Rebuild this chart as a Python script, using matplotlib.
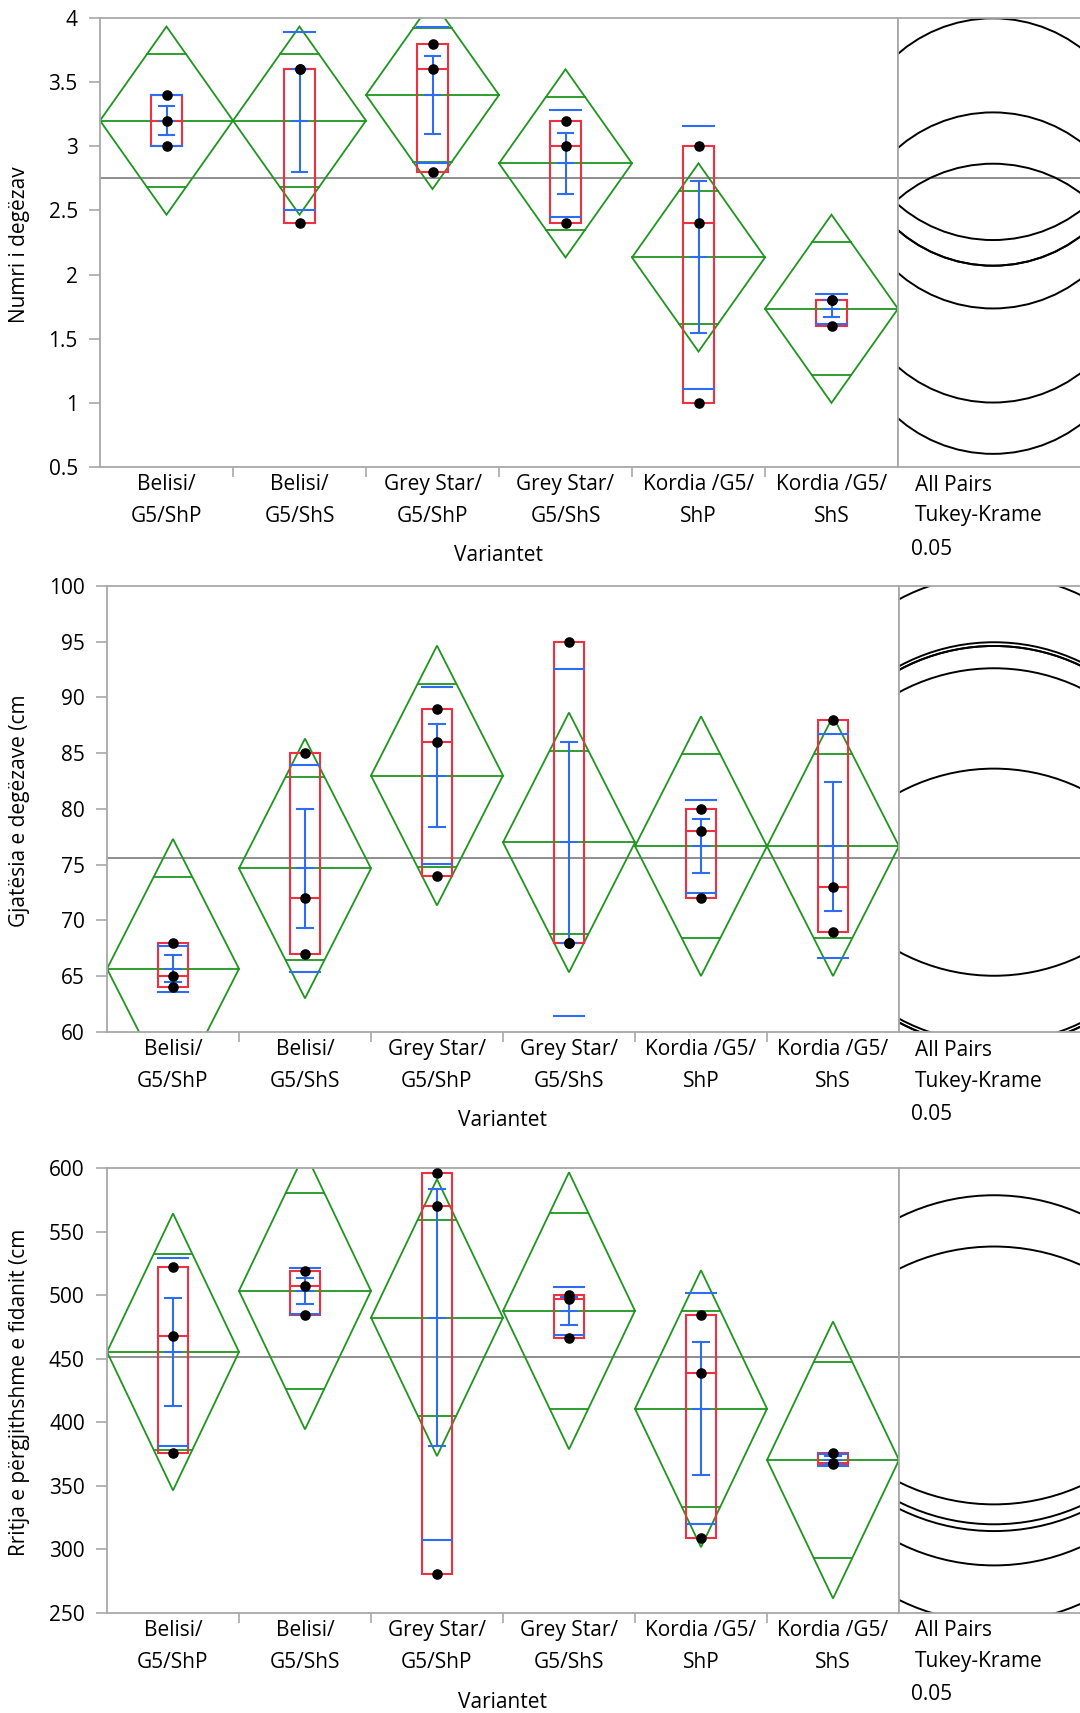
import numpy as np
import matplotlib.pyplot as plt
from matplotlib.patches import Polygon, Rectangle, Ellipse

plt.rcParams['font.family'] = ['Open Sans', 'DejaVu Sans']

W, H = 1080, 1713
DPI = 100

groups = ['Belisi/\nG5/ShP', 'Belisi/\nG5/ShS', 'Grey Star/\nG5/ShP',
          'Grey Star/\nG5/ShS', 'Kordia /G5/\nShP', 'Kordia /G5/\nShS']

branches = [[3.4, 3.2, 3.0], [3.6, 3.6, 2.4], [3.8, 3.6, 2.8],
            [3.2, 3.0, 2.4], [3.0, 2.4, 1.0], [1.8, 1.8, 1.6]]
lengths = [[68, 65, 64], [85, 72, 67], [89, 86, 74],
           [95, 68, 68], [80, 78, 72], [88, 73, 69]]
growth = [[522, 468, 376], [519, 507, 484], [596, 570, 281],
          [500, 497, 466], [484, 439, 309], [376, 368, 367]]

ylabels = ['Numri i degëzav', 'Gjatësia e degëzave (cm',
           'Rritja e përgjithshme e fidanit (cm']
ylims = [(0.5, 4), (60, 100), (250, 600)]
ysteps = [0.5, 5, 50]

T_CRIT = 2.179   # t(0.975, df=12)
Q_STAR = 3.359   # Tukey-Kramer q*/sqrt(2), k=6, df=12

GREEN = '#1f951f'
RED = '#ee3040'
BLUE = '#2e6df2'
FRAME = '#a8a8a8'
FS = 15

# pixel boxes (left, top, right, bottom) of the panels
boxes = [(100, 18, 898, 467), (107, 586, 899, 1032), (107, 1168, 899, 1613)]
CIRCLE_X = 95  # circle centre, px right of the panel divider

fig = plt.figure(figsize=(W / DPI, H / DPI), dpi=DPI)


def frac(l, t, r, b):
    return [l / W, 1 - b / H, (r - l) / W, (b - t) / H]


def draw_panel(data, ylabel, ylim, ystep, box):
    l, t, r, b = box
    ax = fig.add_axes(frac(l, t, r, b))
    cax = fig.add_axes(frac(r, t, W + 2, b))
    for a in (ax, cax):
        a.set_ylim(ylim)
        for s in a.spines.values():
            s.set_color(FRAME)
            s.set_linewidth(1.3)
    cax.spines['right'].set_visible(False)
    cax.set_xticks([])
    cax.set_yticks([])
    cax.set_xlim(0, W + 2 - r)

    ax.set_xlim(0, len(groups))
    ax.set_xticks(np.arange(1, len(groups)))
    ax.set_xticklabels([])
    ax.set_xticks(np.arange(len(groups)) + 0.5, minor=True)
    ax.set_xticklabels(groups, minor=True, fontsize=FS, linespacing=1.7)
    ax.tick_params(axis='x', which='major', length=7, color=FRAME, width=1.2)
    ax.tick_params(axis='x', which='minor', length=0, pad=5)
    yt = np.arange(ylim[0], ylim[1] + ystep / 2, ystep)
    ax.set_yticks(yt)
    ax.set_yticklabels(['%g' % v for v in yt], fontsize=FS)
    ax.tick_params(axis='y', length=8, color=FRAME, width=1.2, pad=8)

    arr = [np.array(v, dtype=float) for v in data]
    n = len(arr[0])
    means = [v.mean() for v in arr]
    rmse = np.sqrt(np.mean([v.var(ddof=1) for v in arr]))
    ci = T_CRIT * rmse / np.sqrt(n)
    grand = np.mean(np.concatenate(arr))

    ax.axhline(grand, color='#7a7a7a', lw=1.2, zorder=1)
    cax.axhline(grand, color='#7a7a7a', lw=1.2, zorder=1)

    bw = 0.23
    cap = 0.115
    ov = ci / np.sqrt(2)
    hw = 0.5 * (1 - 1 / np.sqrt(2))
    for i, v in enumerate(arr):
        c = i + 0.5
        m = means[i]
        sd = v.std(ddof=1)
        se = sd / np.sqrt(n)
        ax.add_patch(Polygon([(c - 0.5, m), (c, m + ci), (c + 0.5, m), (c, m - ci)],
                             closed=True, fill=False, ec=GREEN, lw=1.3, zorder=2))
        ax.plot([c - 0.5, c + 0.5], [m, m], color=GREEN, lw=1.3, zorder=2)
        ax.plot([c - hw, c + hw], [m + ov, m + ov], color=GREEN, lw=1.3, zorder=2)
        ax.plot([c - hw, c + hw], [m - ov, m - ov], color=GREEN, lw=1.3, zorder=2)

        q1, med, q3 = np.percentile(v, [25, 50, 75], method='weibull')
        ax.add_patch(Rectangle((c - bw / 2, q1), bw, q3 - q1, fill=False,
                               ec=RED, lw=1.5, zorder=3))
        ax.plot([c - bw / 2, c + bw / 2], [med, med], color=RED, lw=1.5, zorder=3)

        for y in (m - sd, m + sd):
            ax.plot([c - bw / 2, c + bw / 2], [y, y], color=BLUE, lw=1.5, zorder=4)
        ax.plot([c, c], [m - se, m + se], color=BLUE, lw=1.5, zorder=4)
        for y in (m - se, m, m + se):
            ax.plot([c - cap / 2, c + cap / 2], [y, y], color=BLUE, lw=1.5, zorder=4)

        ax.scatter(np.full(n, c), v, s=58, color='black', zorder=5, linewidths=0)

    # comparison circles (Tukey-Kramer), round in pixel space
    radius = Q_STAR * rmse / np.sqrt(n)
    ppu = (b - t) / (ylim[1] - ylim[0])
    for m in means:
        cax.add_patch(Ellipse((CIRCLE_X, m), 2 * radius * ppu, 2 * radius,
                              fill=False, ec='black', lw=1.4))

    fig.text(20 / W, 1 - ((t + b) / 2 + 2) / H, ylabel, rotation=90,
             ha='center', va='center', fontsize=FS)
    fig.text((l + r) / 2 / W, 1 - (b + 89) / H, 'Variantet',
             ha='center', va='center', fontsize=FS)
    for k, s in enumerate(['All Pairs', 'Tukey-Krame']):
        fig.text(915 / W, 1 - (b + 18 + 31 * k) / H, s,
                 ha='left', va='center', fontsize=FS)
    fig.text(911 / W, 1 - (b + 82) / H, '0.05', ha='left', va='center', fontsize=FS)


for d, lab, yl, st, bx in zip([branches, lengths, growth], ylabels, ylims, ysteps, boxes):
    draw_panel(d, lab, yl, st, bx)

fig.savefig('out.png', dpi=DPI, facecolor='white')
